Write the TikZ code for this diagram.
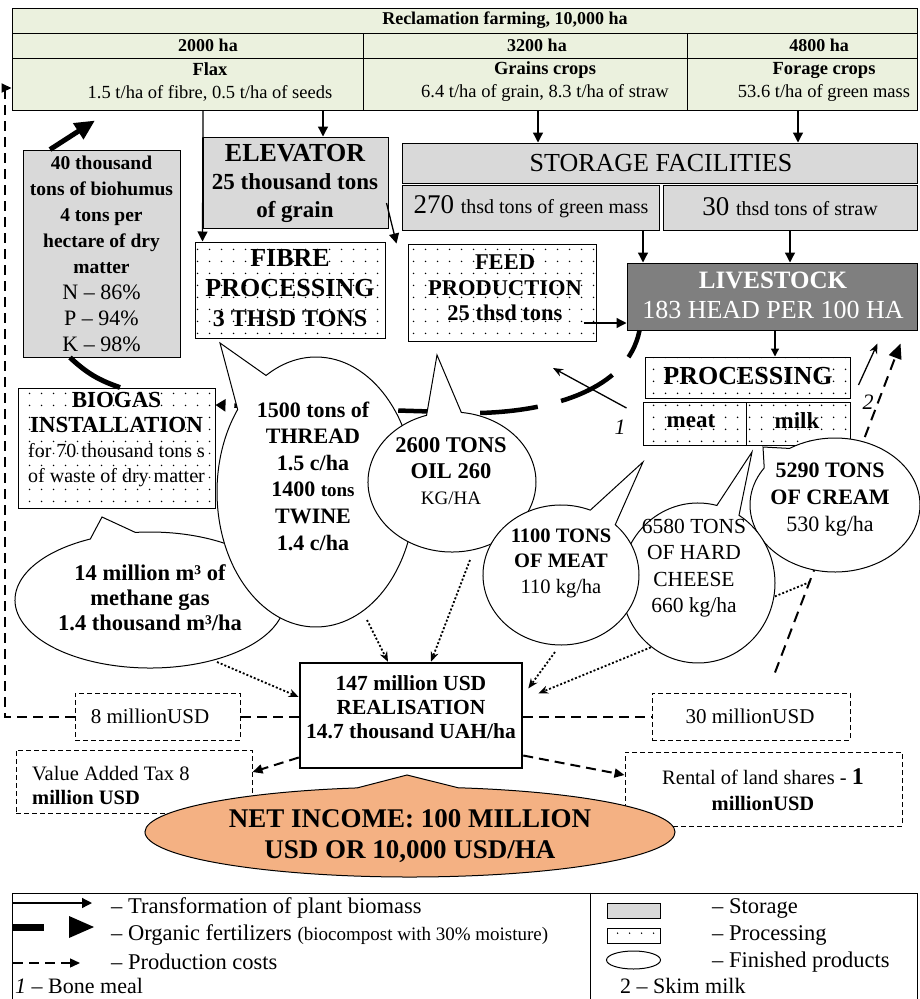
\documentclass[tikz,border=0pt]{standalone}
\usepackage{fontspec}
\setmainfont{Liberation Serif}
\usetikzlibrary{shapes.callouts,shapes.geometric,arrows.meta,patterns.meta,calc}
\definecolor{tgreen}{HTML}{EBF1DE}
\definecolor{sgray}{HTML}{D9D9D9}
\definecolor{lgray}{HTML}{7F7F7F}
\definecolor{orng}{HTML}{F4B183}
\tikzdeclarepattern{name=sparsedots, type=uncolored,
  bounding box={(0pt,0pt) and (12pt,12pt)}, tile size={(12pt,12pt)},
  code={\fill (6pt,6pt) circle (0.9pt);}}
\newcommand\fz[2]{\fontsize{#1}{#2}\selectfont}
\begin{document}
\begin{tikzpicture}[x=1pt,y=-1pt,
  cell/.style={draw, line width=1pt, fill=tgreen, inner sep=0pt},
  boxx/.style={draw, line width=1pt, inner sep=0pt},
  store/.style={boxx, fill=sgray},
  proc/.style={boxx, pattern=sparsedots},
  dbox/.style={draw, line width=1pt, dash pattern=on 5pt off 3pt, inner sep=0pt},
  bubble/.style={ellipse callout, draw, line width=1pt, fill=white, inner sep=0pt},
  txt/.style={inner sep=0pt, align=center},
  thinarr/.style={line width=1.3pt, -{Triangle[length=10pt,width=10pt]}},
  fert/.style={line width=5pt, -{Triangle[length=20pt,width=18pt]}},
  cost/.style={line width=2pt, dash pattern=on 10pt off 6pt, -{Triangle[length=10pt,width=9pt]}},
  finarr/.style={line width=1.8pt, dash pattern=on 2pt off 2pt, -{Stealth[length=10pt,width=8pt]}}
]
\useasboundingbox (0,0) rectangle (919,999);
% ---------- table ----------
\node[cell, minimum width=905pt, minimum height=25pt] (rec) at (464.5,20.5) {};
\node[cell, minimum width=351pt, minimum height=25pt] (fha) at (187.5,45.5) {};
\node[cell, minimum width=324pt, minimum height=25pt] (gha) at (525,45.5) {};
\node[cell, minimum width=230pt, minimum height=25pt] (oha) at (802,45.5) {};
\node[cell, minimum width=351pt, minimum height=52pt] (flax) at (187.5,84) {};
\node[cell, minimum width=324pt, minimum height=52pt] (grain) at (525,84) {};
\node[cell, minimum width=230pt, minimum height=52pt] (forage) at (802,84) {};
\node[txt, font=\bfseries\fz{18}{22}] (recT) at (505,20.5) {Reclamation farming, 10,000 ha};
\node[txt, font=\bfseries\fz{18}{22}] (fhaT) at (208,45.5) {2000 ha};
\node[txt, font=\bfseries\fz{18}{22}] (ghaT) at (537,45.5) {3200 ha};
\node[txt, font=\bfseries\fz{18}{22}] (ohaT) at (819,45.5) {4800 ha};
\node[txt, font=\fz{18.5}{23}] (flaxT) at (210,82) {\textbf{Flax}\\1.5 t/ha of fibre, 0.5 t/ha of seeds};
\node[txt, font=\fz{18.5}{23}] (grainT) at (545,82) {\textbf{Grains crops}\\6.4 t/ha of grain, 8.3 t/ha of straw};
\node[txt, font=\fz{18.5}{23}] (forageT) at (824,82) {\textbf{Forage crops}\\53.6 t/ha of green mass};
% ---------- boxes ----------
\node[store, minimum width=185pt, minimum height=91pt] (elev) at (295.5,182.5) {};
\node[txt, font=\bfseries\fz{23}{28}] (elevT) at (295,183) {{\fz{26}{28}ELEVATOR}\\25 thousand tons\\of grain};
\node[store, minimum width=515pt, minimum height=40pt] (stor) at (659.5,163) {};
\node[txt, font=\fz{26}{30}] (storT) at (661,163) {STORAGE FACILITIES};
\node[store, minimum width=257pt, minimum height=45pt] (gm) at (530.5,207.5) {};
\node[txt] (gmT) at (531,207) {\fz{27}{30}270 \fz{20}{24}thsd tons of green mass};
\node[store, minimum width=254pt, minimum height=45pt] (straw) at (790,207.5) {};
\node[txt] (strawT) at (790,207) {\fz{27}{30}30 \fz{20}{24}thsd tons of straw};
\node[boxx, fill=lgray, minimum width=290pt, minimum height=67pt] (live) at (772,296.5) {};
\node[txt, text=white, font=\fz{25}{30}] (liveT) at (773,295) {{\bfseries LIVESTOCK}\\{\fz{26}{30}183 HEAD PER 100 HA}};
\node[proc, minimum width=188pt, minimum height=97pt] (feed) at (502,292.5) {};
\node[txt, font=\bfseries\fz{22.5}{25.5}] (feedT) at (505,288) {FEED\\PRODUCTION\\25 thsd tons};
\node[proc, minimum width=190pt, minimum height=96pt] (fibre) at (290,290) {};
\node[txt, font=\bfseries\fz{26}{30}] (fibreT) at (290,288) {FIBRE\\PROCESSING\\{\fz{24}{30}3 THSD TONS}};
\node[store, minimum width=157pt, minimum height=207pt] (bioh) at (101.5,253.5) {};
\node[txt, font=\fz{19.5}{26}] (biohT) at (101.5,254) {\textbf{40 thousand}\\\textbf{tons of biohumus}\\\textbf{4 tons per}\\\textbf{hectare of dry}\\\textbf{matter}\\{\fz{22}{26}N – 86\%}\\{\fz{22}{26}P – 94\%}\\{\fz{22}{26}K – 98\%}};
\node[proc, minimum width=197pt, minimum height=120pt] (biog) at (116.5,448) {};
\node[txt, font=\fz{20}{25}] (biogT) at (116.5,440) {{\bfseries\fz{23}{25}BIOGAS}\\{\bfseries\fz{23}{25}INSTALLATION}\\for 70 thousand tons s\\of waste of dry matter};
\node[proc, minimum width=205pt, minimum height=41pt] (proc) at (747.5,377.5) {};
\node[txt, font=\bfseries\fz{26}{30}] (procT) at (748,376) {PROCESSING};
\node[proc, minimum width=103pt, minimum height=43pt] (meat) at (694.5,423.5) {};
\node[txt, font=\bfseries\fz{23}{26}] (meatT) at (691,421) {meat};
\node[proc, minimum width=104pt, minimum height=43pt] (milk) at (798,423.5) {};
\node[txt, font=\bfseries\fz{23}{26}] (milkT) at (797,421) {milk};
% ---------- money boxes ----------
\node[draw, line width=2.5pt, inner sep=0pt, fill=white, minimum width=222pt, minimum height=105pt] (real) at (411,715.5) {};
\node[txt, font=\bfseries\fz{21.5}{24}] (realT) at (411,707) {147 million USD\\REALISATION\\14.7 thousand UAH/ha};
\node[dbox, minimum width=165pt, minimum height=47pt] (m8) at (157.5,716.5) {};
\node[txt, font=\fz{21}{24}] (m8T) at (150,716) {8 millionUSD};
\node[dbox, minimum width=198pt, minimum height=47pt] (m30) at (751,716.5) {};
\node[txt, font=\fz{21}{24}] (m30T) at (750,716) {30 millionUSD};
\node[dbox, minimum width=236pt, minimum height=63pt] (vat) at (134,781.5) {};
\node[inner sep=0pt, align=left, anchor=west, font=\fz{20.5}{24}] (vatT) at (32,785) {Value Added Tax 8\\\textbf{million USD}};
\node[dbox, minimum width=277pt, minimum height=74pt] (rent) at (763.5,789) {};
\node[txt, font=\fz{20.5}{26}] (rentT) at (763,790) {Rental of land shares - {\bfseries\fz{24}{26}1}\\\textbf{millionUSD}};
% ---------- connectors at the top ----------
\draw[thinarr] ([xshift=135.5]flax.south) -- ([xshift=27.5]elev.north);
\draw[thinarr] ([xshift=15.5]flax.south) -- (elev.west |- fibre.north);
\draw[thinarr] ([xshift=13]grain.south) -- ([xshift=-121.5]stor.north);
\draw[thinarr] ([xshift=-4]forage.south) -- ([xshift=138.5]stor.north);
\draw[thinarr] ([xshift=112.5]gm.south) -- ([xshift=-129]live.north);
\draw[thinarr] (straw.south) -- ([xshift=18]live.north);
\draw[thinarr] ([xshift=-2,yshift=-20.5]elev.east) -- ([xshift=-11]feed.north west);
\draw[thinarr] ([xshift=-13,yshift=-30.5]feed.east) -- ([yshift=-26.5]live.west);
\draw[line width=1.3pt, -{Triangle[length=8pt,width=8pt]}] ([xshift=3]live.south) -- ([xshift=27.5]proc.north);
\draw[fert] ([xshift=-51.5]bioh.north) -- ([xshift=-92.5,yshift=-10]flax.south);
\draw[line width=5pt] ([xshift=3.5]biog.north) to[bend left=12] ([xshift=-31.5]bioh.south);
\coordinate (bm) at (553,368);
\draw[line width=1.3pt, -{Stealth[length=10pt,width=8pt]}] ([xshift=-16,yshift=15.5]meat.west) -- (bm);
\node[txt, font=\itshape\fz{22}{24}] (lab1) at (620,427) {1};
\draw[line width=1.3pt, -{Stealth[length=10pt,width=8pt]}] ([xshift=8,yshift=-7.5]proc.east) -- ([xshift=-40,yshift=-13]live.south east);
\node[txt, font=\itshape\fz{22}{24}] (lab2) at (868,402) {2};
% ---------- connectors behind the products ----------
\draw[line width=4.5pt, dash pattern=on 58pt off 24pt, dash phase=29pt, -{Triangle[length=10pt,width=12pt]}]
  ([xshift=13]live.south west) .. controls +(-12,60) and +(70,-2) .. (480,413) -- ([yshift=43]biog.east);
\draw[line width=2pt, dash pattern=on 11pt off 7pt, -{Triangle[length=15pt,width=13pt]}]
  ([xshift=24,yshift=20]m30.north) -- ([xshift=-17,yshift=-13]live.south east);
% ---------- finished products ----------
\coordinate (creamc) at (835,505);
\node[bubble, minimum width=270pt, minimum height=136pt, callout absolute pointer={(102,517)}, callout pointer arc=20] (meth) at (150,600) {};
\node[bubble, minimum width=198pt, minimum height=270pt, callout absolute pointer={(220,343)}, callout pointer arc=22] (thread) at (316,492) {};
\node[bubble, minimum width=168pt, minimum height=140pt, callout absolute pointer={(437,355)}, callout pointer arc=24] (oil) at (452,482) {};
\draw[finarr] ([xshift=-25,yshift=-77]creamc) -- ([xshift=15,yshift=22]real.east);
\node[bubble, minimum width=170pt, minimum height=134pt, callout absolute pointer={(763,447)}, callout pointer arc=24] (cream) at (creamc) {};
\node[bubble, minimum width=154pt, minimum height=160pt, callout absolute pointer={(752,452)}, callout pointer arc=18] (cheese) at (698,583) {};
\node[bubble, minimum width=156pt, minimum height=140pt, callout absolute pointer={(643,462)}, callout pointer arc=22] (meatb) at (561,575) {};
\node[txt, font=\bfseries\fz{22.5}{25}] (methT) at (150,598) {14 million m³ of\\methane gas\\1.4 thousand m³/ha};
\node[txt, font=\bfseries\fz{22}{26.6}] (threadT) at (313,476) {1500 tons of\\THREAD\\1.5 c/ha\\1400 {\fz{19}{26.6}tons}\\TWINE\\1.4 c/ha};
\node[txt, font=\bfseries\fz{22.5}{26}] (oilT) at (451,471) {2600 TONS\\OIL 260\\{\mdseries\fz{19}{26}KG/HA}};
\node[txt, font=\bfseries\fz{20.5}{25.5}] (meatbT) at (561,563) {1100 TONS\\OF MEAT\\{\mdseries 110 kg/ha}};
\node[txt, font=\fz{21.5}{26.5}] (cheeseT) at (694,568) {6580 TONS\\OF HARD\\CHEESE\\660 kg/ha};
\node[txt, font=\bfseries\fz{22}{27}] (creamT) at (830,500) {5290 TONS\\OF CREAM\\{\mdseries 530 kg/ha}};
% ---------- money flows ----------
\draw[finarr] ([xshift=67,yshift=-62]meth.center) -- ([yshift=18.5]real.west);
\draw[finarr] ([xshift=51,yshift=-128]thread.center) -- ([xshift=-23]real.north);
\draw[finarr] ([xshift=18,yshift=-78]oil.center) -- ([xshift=20]real.north);
\draw[finarr] ([xshift=-6,yshift=-77]meatb.center) -- ([xshift=5,yshift=27]real.east);
\draw[cost, -] (m8.east -| real.west) -- (m8.east);
\draw[cost, -] (m30.west -| real.east) -- (m30.west);
\draw[cost] (m8.west) -- ++(-70,0) |- ([yshift=-4]flax.west);
\draw[cost] ([yshift=-42]real.west) -- ([yshift=9.5]vat.east);
\draw[cost] ([yshift=-40]real.east) -- ([yshift=14]rent.west);
\node[bubble, fill=orng, minimum width=530pt, minimum height=90pt, callout absolute pointer={(407,775)}, callout pointer arc=22] (net) at (410,832) {};
\node[txt, font=\bfseries\fz{27}{31}] (netT) at (410,836) {NET INCOME: 100 MILLION\\USD OR 10,000 USD/HA};
% ---------- legend ----------
\node[boxx, minimum width=905pt, minimum height=110pt] (leg) at (464.5,948) {};
\draw[line width=1pt] ([xshift=125.5]leg.north) -- ([xshift=125.5]leg.south);
\coordinate (la1) at (13,903); \coordinate (lb1) at (92,903);
\draw[thinarr] (la1) -- (lb1);
\coordinate (la2) at (13,927); \coordinate (lb2) at (44,927);
\draw[line width=7pt] (la2) -- (lb2);
\fill (69,916) -- (94,927) -- (69,938) -- cycle;
\coordinate (la3) at (13,963); \coordinate (lb3) at (80,963);
\draw[cost, line width=1.4pt] (la3) -- (lb3);
\node[inner sep=0pt, anchor=west, font=\fz{22.5}{26}] (l1T) at (111,908) {– Transformation of plant biomass};
\node[inner sep=0pt, anchor=west, font=\fz{22.5}{26}] (l2T) at (111,935) {– Organic fertilizers {\fz{19}{26}(biocompost with 30\% moisture)}};
\node[inner sep=0pt, anchor=west, font=\fz{22.5}{26}] (l3T) at (111,962) {– Production costs};
\node[inner sep=0pt, anchor=west, font=\fz{22}{26}] (l4T) at (15,986) {\textit{1} – Bone meal};
\node[store, minimum width=53pt, minimum height=15pt] (lstor) at (633.5,910.5) {};
\node[proc, minimum width=53pt, minimum height=15pt] (lproc) at (633.5,936) {};
\node[ellipse, draw, line width=1pt, inner sep=0pt, minimum width=54pt, minimum height=18pt] (lfin) at (633.5,960) {};
\node[inner sep=0pt, anchor=west, font=\fz{22.5}{26}] (r1T) at (712,908) {– Storage};
\node[inner sep=0pt, anchor=west, font=\fz{22.5}{26}] (r2T) at (712,935) {– Processing};
\node[inner sep=0pt, anchor=west, font=\fz{22.5}{26}] (r3T) at (712,962) {– Finished products};
\node[inner sep=0pt, anchor=west, font=\fz{22}{26}] (r4T) at (620,986) {2 – Skim milk};
\end{tikzpicture}
\end{document}
